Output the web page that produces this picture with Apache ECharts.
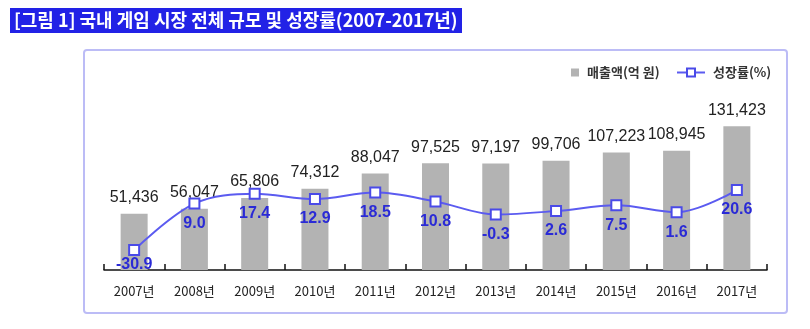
<!DOCTYPE html>
<html><head><meta charset="utf-8">
<script src="https://cdn.jsdelivr.net/npm/echarts@6/dist/echarts.min.js"></script>
<style>html,body{margin:0;padding:0;background:#fff;}#c{width:810px;height:329px;}</style>
</head><body><div id="c"></div>
<script>
const titleText = '[그림 1] 국내 게임 시장 전체 규모 및 성장률(2007-2017년)';
const years = ['2007년','2008년','2009년','2010년','2011년','2012년','2013년','2014년','2015년','2016년','2017년'];
const sales = [51436,56047,65806,74312,88047,97525,97197,99706,107223,108945,131423];
const growth = [-30.9,9.0,17.4,12.9,18.5,10.8,-0.3,2.6,7.5,1.6,20.6];
const seriesNames = ['매출액(억 원)','성장률(%)'];

const chart = echarts.init(document.getElementById('c'));
const numFont = 'Liberation Sans, Arial, sans-serif';
const krFont = '"Noto Sans CJK KR", sans-serif';
const legendText = {fontFamily: krFont, fontSize: 13, fontWeight: 'bold', color: '#333', padding: [0, 0, 0, 3]};
chart.setOption({
  animation: false,
  graphic: [
    {type:'rect', shape:{x:10,y:8,width:452,height:25}, style:{fill:'#2222e6'}, z:0},
    {type:'text', x:14, y:20.5, style:{text:titleText, fill:'#fff', font:'bold 18px "Noto Sans CJK KR", sans-serif', verticalAlign:'middle'}},
    {type:'rect', shape:{x:84,y:50,width:703,height:263,r:3}, style:{fill:'none', stroke:'#bcbcf6', lineWidth:2}, z:-1}
  ],
  legend: [
    {left: 566, top: 61, itemHeight: 8, itemWidth: 8, textStyle: legendText,
     data: [{name: seriesNames[0], icon: 'rect'}]},
    {left: 671, top: 61, itemHeight: 10, itemWidth: 28, textStyle: legendText,
     data: [{name: seriesNames[1]}]}
  ],
  grid: {left: 104, right: 43, top: 62, bottom: 59},
  xAxis: {
    type: 'category', data: years,
    axisLine: {show: true, lineStyle: {color: '#111', width: 1.5}},
    axisTick: {show: true, inside: true, length: 6, alignWithLabel: false, interval: 0, lineStyle: {color: '#111', width: 1.5}},
    axisLabel: {margin: 15, fontFamily: krFont, fontSize: 13, color: '#222'}
  },
  yAxis: [
    {type: 'value', min: 0, max: 190000, show: false},
    {type: 'value', min: -48, max: 130.5, show: false}
  ],
  series: [
    {
      name: seriesNames[0], type: 'bar', data: sales, barWidth: 27,
      itemStyle: {color: '#b3b3b3'},
      label: {show: true, position: 'top', distance: 8, color: '#222', fontFamily: numFont, fontSize: 16,
        formatter: p => p.value.toLocaleString('en-US')}
    },
    {
      name: seriesNames[1], type: 'line', yAxisIndex: 1, smooth: 0.35,
      data: growth.map((v, i) => i === 0 ? {value: v, label: {distance: 1}} : v),
      symbol: 'rect', symbolSize: 10, z: 5,
      lineStyle: {color: '#5b5bf0', width: 2},
      itemStyle: {color: '#fff', borderColor: '#4a4ae8', borderWidth: 2},
      label: {show: true, position: 'bottom', distance: 6, color: '#2a2ad6', fontFamily: numFont, fontSize: 16, fontWeight: 'bold',
        formatter: p => (typeof p.value === 'number' ? p.value : p.data.value).toFixed(1)}
    }
  ]
});
</script></body></html>
